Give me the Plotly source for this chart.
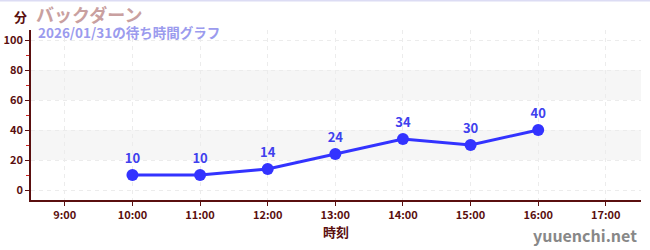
import plotly.graph_objects as go

hours = [10, 11, 12, 13, 14, 15, 16]
waits = [10, 10, 14, 24, 34, 30, 40]
tick_hours = [9, 10, 11, 12, 13, 14, 15, 16, 17]
tick_labels = ["9:00", "10:00", "11:00", "12:00", "13:00", "14:00", "15:00", "16:00", "17:00"]
y_ticks = [0, 20, 40, 60, 80, 100]
bands = [(20, 40), (60, 80)]

title_text = "バックダーン"
subtitle_text = "2026/01/31の待ち時間グラフ"
y_unit = "分"
x_title = "時刻"
watermark = "yuuenchi.net"

FONT = "Noto Sans CJK JP"
AXIS = "#5a0f0f"

fig = go.Figure()
fig.add_trace(go.Scatter(
    x=hours, y=waits, mode="lines+markers+text",
    text=[str(v) for v in waits], textposition="top center",
    textfont=dict(family=FONT, size=13, color="#4040ee", weight="bold"),
    line=dict(color="#3333ff", width=3),
    marker=dict(color="#3333ff", size=12),
    cliponaxis=False, hoverinfo="skip",
))

for lo, hi in bands:
    fig.add_shape(type="rect", xref="paper", yref="y", x0=0, x1=1, y0=lo, y1=hi,
                  fillcolor="#f6f6f6", line=dict(width=0), layer="below")

fig.update_layout(
    width=650, height=250,
    margin=dict(l=31, r=9, t=30, b=50),
    paper_bgcolor="white", plot_bgcolor="white",
    showlegend=False,
    font=dict(family=FONT, color=AXIS),
)
fig.update_xaxes(
    range=[8.5, 17.52], tickvals=tick_hours, ticktext=tick_labels,
    automargin=False,
    showline=True, linecolor=AXIS, linewidth=1.5,
    ticks="outside", ticklen=4, tickcolor=AXIS,
    tickfont=dict(family=FONT, size=11, color=AXIS, weight="bold"),
    showgrid=True, gridcolor="#ececec", griddash="4px,4px", gridwidth=1,
    zeroline=False,
    title=dict(text=x_title, font=dict(family=FONT, size=13, color=AXIS, weight="bold"), standoff=6),
)
fig.update_yaxes(
    range=[-6.67, 106.67], tickvals=y_ticks,
    automargin=False,
    showline=True, linecolor=AXIS, linewidth=1.5,
    ticks="outside", ticklen=4, tickcolor=AXIS,
    tickfont=dict(family=FONT, size=11, color=AXIS, weight="bold"),
    showgrid=True, gridcolor="#ececec", griddash="4px,4px", gridwidth=1,
    zeroline=False,
    minor=dict(dtick=10, tick0=0, ticks="outside", ticklen=3, tickcolor="#cc2222", showgrid=False),
)

# top border line
fig.add_shape(type="line", xref="paper", yref="paper", x0=-0.1, x1=1.1, y0=1 + 30 / 170, y1=1 + 30 / 170,
              line=dict(color="#dcdcf4", width=3))
fig.add_annotation(text=y_unit, xref="paper", yref="paper", x=0.0, y=1.0, xshift=-11, yshift=14,
                   xanchor="center", yanchor="middle", showarrow=False,
                   font=dict(family=FONT, size=13, color=AXIS, weight="bold"))
fig.add_annotation(text=title_text, xref="paper", yref="paper", x=0.0, y=1.0, xshift=3, yshift=16,
                   xanchor="left", yanchor="middle", showarrow=False,
                   font=dict(family=FONT, size=18, color="#c9a0a0", weight="bold"))
fig.add_annotation(text=subtitle_text, xref="paper", yref="paper", x=0.0, y=1.0, xshift=5, yshift=-2,
                   xanchor="left", yanchor="middle", showarrow=False,
                   font=dict(family=FONT, size=13.5, color="#9b9bee", weight="bold"))
fig.add_annotation(text=watermark, xref="paper", yref="paper", x=1.0, y=0, xshift=-2, yshift=-49,
                   xanchor="right", yanchor="bottom", showarrow=False,
                   font=dict(family=FONT, size=16, color="#888888", weight="bold"))

fig.write_html("out.html")
